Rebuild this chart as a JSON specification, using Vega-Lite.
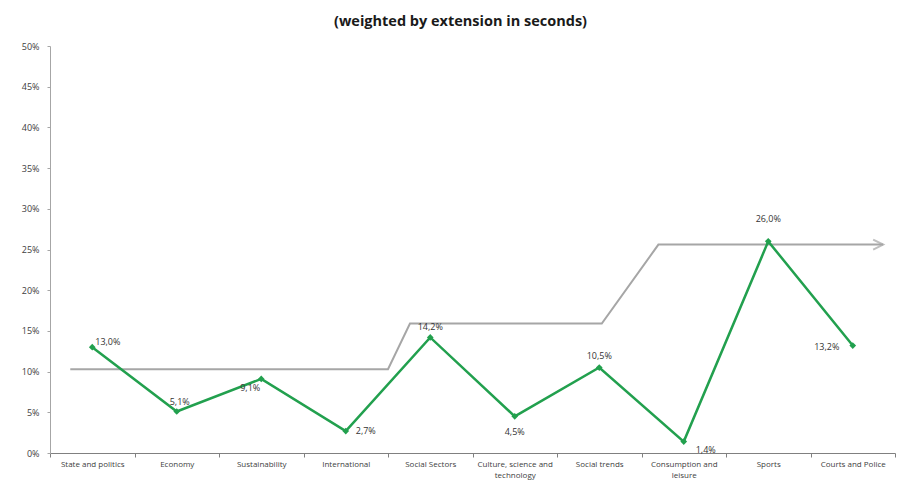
{
  "$schema": "https://vega.github.io/schema/vega-lite/v6.json",
  "width": 845,
  "height": 407,
  "autosize": {"type": "none"},
  "padding": {"left": 50, "top": 46, "right": 3, "bottom": 27},
  "background": "white",
  "config": {
    "locale": {"number": {"decimal": ",", "thousands": ".", "grouping": [3], "currency": ["", " €"]}},
    "view": {"stroke": null},
    "font": "Open Sans"
  },
  "title": {"text": "(weighted by extension in seconds)", "fontSize": 14.5, "fontWeight": "bold", "font": "Open Sans", "color": "#1a1a1a", "anchor": "middle", "dx": -12, "offset": 13},
  "datasets": {
    "topics": [
      {"topic": "State and politics", "share": 0.130},
      {"topic": "Economy", "share": 0.051},
      {"topic": "Sustainability", "share": 0.091},
      {"topic": "International", "share": 0.027},
      {"topic": "Social Sectors", "share": 0.142},
      {"topic": "Culture, science and technology", "share": 0.045},
      {"topic": "Social trends", "share": 0.105},
      {"topic": "Consumption and leisure", "share": 0.014},
      {"topic": "Sports", "share": 0.260},
      {"topic": "Courts and Police", "share": 0.132}
    ],
    "trend": [
      {"pos": 0.24, "share": 0.103},
      {"pos": 4.0, "share": 0.103},
      {"pos": 4.26, "share": 0.159},
      {"pos": 6.53, "share": 0.159},
      {"pos": 7.2, "share": 0.256},
      {"pos": 9.86, "share": 0.256}
    ]
  },
  "layer": [
    {
      "data": {"name": "trend"},
      "encoding": {
        "x": {"field": "pos", "type": "quantitative", "scale": {"domain": [0, 10]}, "axis": null},
        "y": {"field": "share", "type": "quantitative", "scale": {"domain": [0, 0.5]}, "title": null,
          "axis": {"format": ".0%", "values": [0, 0.05, 0.1, 0.15, 0.2, 0.25, 0.3, 0.35, 0.4, 0.45, 0.5], "grid": false, "domainColor": "#A6A6A6", "tickColor": "#A6A6A6", "tickSize": 3, "labelPadding": 8, "labelFontSize": 9, "labelColor": "#404040"}}
      },
      "layer": [
        {"mark": {"type": "line", "color": "#A6A6A6", "strokeWidth": 2}, "encoding": {"order": {"field": "pos"}}},
        {"transform": [{"filter": "datum.pos > 9"}], "mark": {"type": "point", "shape": "M-1,-1L1,0L-1,1", "filled": false, "stroke": "#A6A6A6", "strokeWidth": 2, "size": 100, "xOffset": -5}}
      ]
    },
    {
      "data": {"name": "topics"},
      "encoding": {
        "x": {"field": "topic", "type": "nominal", "bandPosition": 0.5, "title": null,
          "scale": {"type": "band", "paddingInner": 0, "paddingOuter": 0, "domain": ["State and politics", "Economy", "Sustainability", "International", "Social Sectors", "Culture, science and technology", "Social trends", "Consumption and leisure", "Sports", "Courts and Police"]},
          "axis": {"labelAngle": 0, "tickBand": "extent", "domainColor": "#808080", "tickColor": "#808080", "tickSize": 4, "labelPadding": 3, "labelFontSize": 8, "labelColor": "#404040", "labelLineHeight": 11,
            "labelExpr": "datum.value == 'Culture, science and technology' ? ['Culture, science and', 'technology'] : datum.value == 'Consumption and leisure' ? ['Consumption and', 'leisure'] : datum.value"}},
        "y": {"field": "share", "type": "quantitative", "scale": {"domain": [0, 0.5]}, "title": null,
          "axis": {"format": ".0%", "values": [0, 0.05, 0.1, 0.15, 0.2, 0.25, 0.3, 0.35, 0.4, 0.45, 0.5], "grid": false, "domainColor": "#A6A6A6", "tickColor": "#A6A6A6", "tickSize": 3, "labelPadding": 8, "labelFontSize": 9, "labelColor": "#404040"}}
      },
      "layer": [
        {"mark": {"type": "line", "color": "#22A04E", "strokeWidth": 2.5}},
        {"mark": {"type": "point", "shape": "diamond", "filled": true, "color": "#22A04E", "size": 45, "opacity": 1}},
        {"transform": [{"filter": "datum.topic == 'State and politics'"}], "mark": {"type": "text", "align": "left", "dx": 3, "dy": -5, "fontSize": 9, "color": "#333333"}, "encoding": {"text": {"field": "share", "type": "quantitative", "format": ".1%"}}},
        {"transform": [{"filter": "datum.topic == 'Economy'"}], "mark": {"type": "text", "align": "center", "dx": 3, "dy": -9, "fontSize": 9, "color": "#333333"}, "encoding": {"text": {"field": "share", "type": "quantitative", "format": ".1%"}}},
        {"transform": [{"filter": "datum.topic == 'Sustainability'"}], "mark": {"type": "text", "align": "center", "dx": -11, "dy": 9, "fontSize": 9, "color": "#333333"}, "encoding": {"text": {"field": "share", "type": "quantitative", "format": ".1%"}}},
        {"transform": [{"filter": "datum.topic == 'International'"}], "mark": {"type": "text", "align": "left", "dx": 10, "dy": 0, "fontSize": 9, "color": "#333333"}, "encoding": {"text": {"field": "share", "type": "quantitative", "format": ".1%"}}},
        {"transform": [{"filter": "datum.topic == 'Social Sectors'"}], "mark": {"type": "text", "align": "center", "dx": 0, "dy": -10, "fontSize": 9, "color": "#333333"}, "encoding": {"text": {"field": "share", "type": "quantitative", "format": ".1%"}}},
        {"transform": [{"filter": "datum.topic == 'Culture, science and technology'"}], "mark": {"type": "text", "align": "center", "dx": 0, "dy": 16, "fontSize": 9, "color": "#333333"}, "encoding": {"text": {"field": "share", "type": "quantitative", "format": ".1%"}}},
        {"transform": [{"filter": "datum.topic == 'Social trends'"}], "mark": {"type": "text", "align": "center", "dx": 0, "dy": -12, "fontSize": 9, "color": "#333333"}, "encoding": {"text": {"field": "share", "type": "quantitative", "format": ".1%"}}},
        {"transform": [{"filter": "datum.topic == 'Consumption and leisure'"}], "mark": {"type": "text", "align": "center", "dx": 22, "dy": 8, "fontSize": 9, "color": "#333333"}, "encoding": {"text": {"field": "share", "type": "quantitative", "format": ".1%"}}},
        {"transform": [{"filter": "datum.topic == 'Sports'"}], "mark": {"type": "text", "align": "center", "dx": 0, "dy": -22, "fontSize": 9, "color": "#333333"}, "encoding": {"text": {"field": "share", "type": "quantitative", "format": ".1%"}}},
        {"transform": [{"filter": "datum.topic == 'Courts and Police'"}], "mark": {"type": "text", "align": "center", "dx": -26, "dy": 1, "fontSize": 9, "color": "#333333"}, "encoding": {"text": {"field": "share", "type": "quantitative", "format": ".1%"}}}
      ]
    }
  ],
  "resolve": {"scale": {"x": "independent"}}
}
